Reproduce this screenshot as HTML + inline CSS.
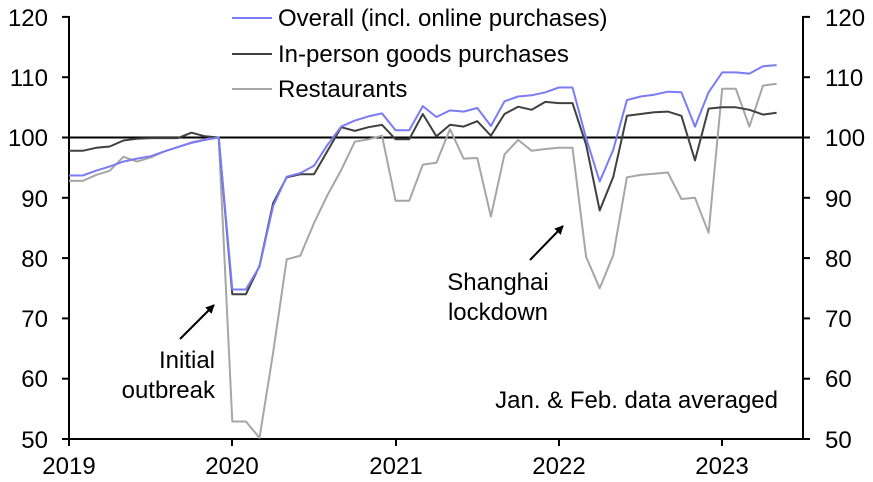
<!DOCTYPE html>
<html><head><meta charset="utf-8"><style>
body{margin:0;background:#fff}
svg{display:block;font-family:"Liberation Sans",Arial,sans-serif}
</style></head><body>
<svg id="c" width="873" height="482" viewBox="0 0 873 482" xmlns="http://www.w3.org/2000/svg">
<defs><marker id="ah" markerWidth="9" markerHeight="9" refX="8" refY="4.5" orient="auto" markerUnits="userSpaceOnUse"><path d="M0,0 L9,4.5 L0,9 z" fill="#000"/></marker></defs>
<g font-size="24" fill="#000">
<text x="48" y="26" text-anchor="end">120</text>
<text x="48" y="86" text-anchor="end">110</text>
<text x="48" y="146" text-anchor="end">100</text>
<text x="48" y="207" text-anchor="end">90</text>
<text x="48" y="267" text-anchor="end">80</text>
<text x="48" y="327" text-anchor="end">70</text>
<text x="48" y="387" text-anchor="end">60</text>
<text x="48" y="448" text-anchor="end">50</text>
<text x="825" y="26">120</text>
<text x="825" y="86">110</text>
<text x="825" y="146">100</text>
<text x="825" y="207">90</text>
<text x="825" y="267">80</text>
<text x="825" y="327">70</text>
<text x="825" y="387">60</text>
<text x="825" y="448">50</text>
<text x="69" y="474" text-anchor="middle">2019</text>
<text x="232" y="474" text-anchor="middle">2020</text>
<text x="396" y="474" text-anchor="middle">2021</text>
<text x="559" y="474" text-anchor="middle">2022</text>
<text x="722" y="474" text-anchor="middle">2023</text>
<text x="278" y="26">Overall (incl. online purchases)</text>
<text x="278" y="62">In-person goods purchases</text>
<text x="278" y="97">Restaurants</text>
<text x="215" y="368" text-anchor="end">Initial</text>
<text x="215" y="398" text-anchor="end">outbreak</text>
<text x="498" y="290" text-anchor="middle">Shanghai</text>
<text x="498" y="320" text-anchor="middle">lockdown</text>
<text x="778" y="408" text-anchor="end">Jan. &amp; Feb. data averaged</text>
</g>
<line x1="232" y1="18" x2="272" y2="18" stroke="#7b7bf5" stroke-width="2"/>
<line x1="232" y1="54" x2="272" y2="54" stroke="#404040" stroke-width="2"/>
<line x1="232" y1="89" x2="272" y2="89" stroke="#a6a6a6" stroke-width="2"/>
<line x1="180" y1="339" x2="214" y2="305" stroke="#000" stroke-width="2" marker-end="url(#ah)"/>
<line x1="530" y1="260" x2="563" y2="226" stroke="#000" stroke-width="2" marker-end="url(#ah)"/>
<g id="axes" stroke="#000" stroke-width="2" fill="none"></g>
<g id="series" fill="none" stroke-width="2" stroke-linejoin="round"></g>
</svg>
<script>
var NS="http://www.w3.org/2000/svg";
function Y(v){return 439-(v-50)*6.03;}
function X(i){return 69+i*163.3/12;}
var ax=document.getElementById("axes");
function ln(x1,y1,x2,y2,w){var l=document.createElementNS(NS,"line");l.setAttribute("x1",x1);l.setAttribute("y1",y1);l.setAttribute("x2",x2);l.setAttribute("y2",y2);if(w)l.setAttribute("stroke-width",w);ax.appendChild(l);}
ln(69,16,69,440);ln(803,16,803,440);ln(68,439,804,439);
for(var v=50;v<=120;v+=10){ln(62,Y(v),69,Y(v));ln(803,Y(v),810,Y(v));}
var yx=[69,232,396,559,722];
for(var k=0;k<5;k++){ln(yx[k],439,yx[k],446);}
ln(69,Y(100),803,Y(100));
var red=[92.8,92.8,93.8,94.5,96.8,96,96.7,97.7,98.4,99.2,99.7,100,
52.9,52.9,50.2,64.3,79.8,80.4,85.8,90.5,94.6,99.3,99.7,100.3,
89.5,89.5,95.5,95.8,101.4,96.5,96.6,86.9,97.2,99.6,97.8,98.1,
98.3,98.3,80.2,75,80.5,93.4,93.8,94,94.2,89.8,90,84.2,
108.1,108.1,101.8,108.6,108.9];
var blk=[97.8,97.8,98.3,98.5,99.5,99.8,99.9,99.9,99.9,100.8,100.2,100,
74,74,78.7,89.1,93.4,93.9,93.9,97.8,101.7,101.1,101.7,102.1,
99.7,99.7,103.9,100.2,102.1,101.8,102.7,100.3,103.9,105.1,104.6,105.9,
105.7,105.7,98.8,87.9,93.5,103.6,103.9,104.2,104.3,103.6,96.2,104.8,
105,105,104.6,103.8,104.1];
var blu=[93.7,93.7,94.5,95.2,96,96.5,96.9,97.7,98.4,99.1,99.6,100,
74.8,74.8,78.6,88.6,93.5,94.1,95.3,98.8,101.8,102.8,103.5,104,
101.2,101.2,105.2,103.4,104.5,104.3,104.9,101.9,106,106.8,107,107.5,
108.3,108.3,99.9,92.7,98,106.2,106.8,107.1,107.6,107.5,101.8,107.5,
110.8,110.8,110.6,111.8,112];
var sg=document.getElementById("series");
function pl(d,c){var p=document.createElementNS(NS,"polyline");p.setAttribute("points",d.map(function(v,i){return X(i).toFixed(1)+","+Y(v).toFixed(1);}).join(" "));p.setAttribute("stroke",c);sg.appendChild(p);}
pl(red,"#a6a6a6");pl(blk,"#404040");pl(blu,"#7b7bf5");
</script>
</body></html>
